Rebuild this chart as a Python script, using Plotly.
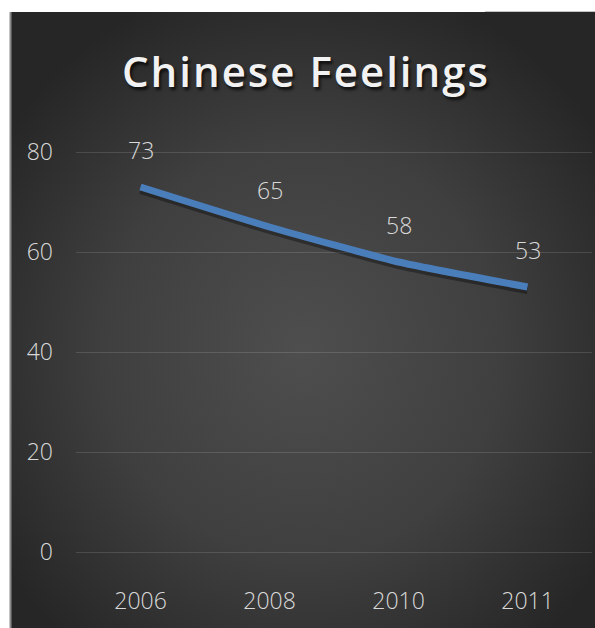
import base64
import plotly.graph_objects as go

years = ["2006", "2008", "2010", "2011"]
values = [73, 65, 58, 53]
y_ticks = [0, 20, 40, 60, 80]
title_text = "Chinese Feelings"

W, H = 595, 628
L, R, T, B = 76, 3, 150, 76
PW, PH = W - L - R, H - T - B


def px2x(px):
    return (px - L) / PW


def py2y(py):
    return (H - B - py) / PH


svg = (
    '<svg xmlns="http://www.w3.org/2000/svg" width="584" height="616" viewBox="0 0 584 616" preserveAspectRatio="none">'
    '<defs><radialGradient id="g" cx="50%" cy="55%" r="62%" fx="50%" fy="55%">'
    '<stop offset="0%" stop-color="#4e4e4e"/>'
    '<stop offset="55%" stop-color="#3f3f3f"/>'
    '<stop offset="100%" stop-color="#262626"/>'
    '</radialGradient></defs>'
    '<rect x="0" y="0" width="584" height="616" fill="url(#g)"/></svg>'
)
bg_src = "data:image/svg+xml;base64," + base64.b64encode(svg.encode()).decode()

label_font = dict(family="Open Sans", size=23, color="#d9d9d9", weight=300)

fig = go.Figure()
# soft shadow under the line
fig.add_trace(go.Scatter(
    x=years, y=[v - 0.6 for v in values], mode="lines",
    line=dict(color="rgba(0,0,0,0.35)", width=8, shape="spline", smoothing=0.5),
    hoverinfo="skip", showlegend=False,
))
fig.add_trace(go.Scatter(
    x=years, y=values, mode="lines",
    line=dict(color="#4a7ebb", width=7, shape="spline", smoothing=0.5),
    hoverinfo="skip", showlegend=False,
))

for i, (xv, yv) in enumerate(zip(years, values)):
    fig.add_annotation(
        x=i, y=yv, xref="x", yref="y", text=str(yv), showarrow=False, yshift=37,
        font=label_font,
    )

fig.update_layout(
    width=W, height=H,
    margin=dict(l=L, r=R, t=T, b=B, pad=0),
    paper_bgcolor="white",
    plot_bgcolor="rgba(0,0,0,0)",
    showlegend=False,
    title=dict(
        text='<span style="letter-spacing:2px">' + title_text + '</span>',
        x=(11 + 595) / 2 / W + 0.005, xanchor="center",
        y=1 - 72 / H, yanchor="middle", yref="container",
        font=dict(family="Open Sans", size=42, color="#f2f2f2", weight=600,
                  shadow="2px 3px 3px rgba(0,0,0,0.7)"),
    ),
    xaxis=dict(
        type="category", range=[-0.5, 3.5],
        showgrid=False, zeroline=False, showline=False, ticks="",
        ticklabelstandoff=33,
        tickfont=label_font,
        fixedrange=True,
    ),
    yaxis=dict(
        range=[0, 80.4], tickvals=y_ticks, ticktext=[str(v) for v in y_ticks],
        showgrid=True, gridcolor="rgba(255,255,255,0.13)", gridwidth=1,
        zeroline=True, zerolinecolor="rgba(255,255,255,0.13)", zerolinewidth=1,
        showline=False, ticks="", ticklabelstandoff=22,
        tickfont=label_font,
        fixedrange=True,
    ),
    images=[dict(
        source=bg_src, xref="paper", yref="paper",
        x=px2x(11), y=py2y(12), sizex=(W - 11) / PW, sizey=(H - 12) / PH,
        xanchor="left", yanchor="top", sizing="stretch", layer="below",
    )],
    shapes=[
        dict(type="line", xref="paper", yref="paper",
             x0=px2x(10.5), x1=px2x(10.5), y0=py2y(12), y1=py2y(H),
             line=dict(color="#8a8a8a", width=2)),
        dict(type="line", xref="paper", yref="paper",
             x0=px2x(485), x1=px2x(W), y0=py2y(11.5), y1=py2y(11.5),
             line=dict(color="#c4c4c4", width=1)),
    ],
)

fig.write_html("out.html", config={"displayModeBar": False})
